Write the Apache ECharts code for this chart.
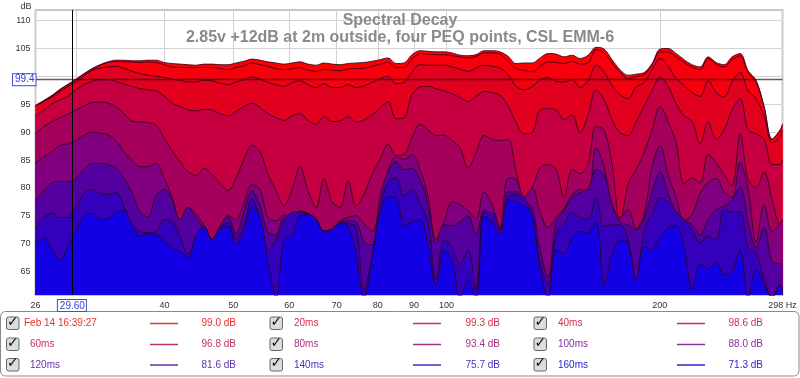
<!doctype html>
<meta charset="utf-8">
<style>
  html, body { margin: 0; padding: 0; width: 100%; height: 100%; background: #fff; }
  #chart { width: 800px; height: 378px; filter: blur(.35px); }
</style>
<script src="https://cdn.jsdelivr.net/npm/echarts@6/dist/echarts.min.js"></script>

<div id="chart"></div>

<script>
  const freqs = [26.3,27.03,27.75,28.48,29.23,30.0,30.79,31.6,32.43,33.29,
    34.16,35.06,35.99,36.94,37.91,38.91,39.93,40.98,42.06,43.17,
    44.31,45.48,46.68,47.91,49.17,50.46,51.79,53.16,54.56,56.0,
    57.47,58.98,60.54,62.13,63.77,65.45,67.17,68.94,70.76,72.62,
    74.53,76.5,78.51,80.58,82.7,84.88,87.12,89.41,91.77,94.18,
    96.66,99.21,101.82,104.51,107.26,110.08,112.98,115.96,119.01,122.15,
    125.37,128.67,132.06,135.54,139.11,142.77,146.54,150.4,154.36,158.43,
    162.6,166.89,171.28,175.79,180.42,185.18,190.06,195.06,200.2,205.48,
    210.89,216.45,222.15,228.0,234.01,240.17,246.5,252.99,259.66,266.5,
    273.52,280.72,288.12,295.71,298];

  const ms0 = [94.8,95.7,96.6,97.7,98.6,99.5,100.5,101.4,102.1,102.6,
    102.9,102.9,102.8,102.8,102.9,102.9,102.5,102.3,102.2,102.1,
    102.0,102.2,102.2,102.1,102.1,102.4,102.7,103.1,102.9,102.6,
    102.4,102.2,102.4,102.6,102.2,102.0,102.4,102.2,102.1,102.3,
    102.4,102.5,102.7,103.0,103.3,102.3,102.4,103.9,104.6,104.5,
    104.4,104.4,104.2,103.8,103.7,103.9,104.6,104.6,104.4,103.6,
    102.3,102.4,102.4,103.3,104.1,104.0,103.5,103.8,103.2,103.8,
    105.2,104.9,103.0,101.2,100.2,100.4,100.7,102.3,104.9,105.0,
    104.1,103.0,102.1,101.7,103.5,102.5,102.1,103.5,104.1,101.0,
    99.3,94.6,88.8,90.4,91.5];
  const ms20 = [94.8,95.6,96.5,97.6,98.5,99.4,100.4,101.3,102.0,102.5,
    102.7,102.6,102.6,102.5,102.6,102.5,102.1,101.7,101.6,101.6,
    101.6,101.6,101.6,101.4,101.2,101.6,101.9,102.4,102.1,101.8,
    101.4,101.2,101.4,101.6,101.1,100.9,101.3,101.1,101.0,101.3,
    101.4,101.5,101.8,102.2,102.5,101.6,101.6,103.1,104.1,104.0,
    103.9,103.9,103.7,103.5,103.3,103.6,104.2,104.2,104.0,102.7,
    101.4,101.1,100.8,101.8,102.6,102.5,102.3,102.7,102.2,102.4,
    104.8,104.2,102.4,100.8,99.6,100.0,100.3,102.1,104.4,104.4,
    103.5,102.5,101.7,101.2,103.2,102.2,101.7,103.0,103.7,100.7,
    99.0,94.5,88.7,90.3,91.3];
  const ms40 = [94.7,95.5,96.3,97.3,98.2,99.0,100.1,101.1,101.5,101.7,
    101.8,101.4,100.9,100.5,100.2,100.0,99.8,99.5,99.3,99.0,
    99.0,99.3,99.2,98.8,98.5,99.0,99.4,99.9,99.5,98.9,
    98.5,98.2,98.9,99.2,98.5,98.0,98.7,98.0,98.0,98.5,
    98.0,98.3,98.9,99.6,100.0,98.7,98.9,100.8,102.1,102.0,
    102.0,102.0,101.7,101.3,100.9,101.5,102.0,101.8,101.5,100.3,
    98.2,97.6,98.2,99.4,99.8,99.1,99.0,99.4,98.0,99.2,
    102.0,100.8,98.3,96.7,96.0,98.1,98.9,101.2,103.2,101.9,
    99.6,98.4,97.1,96.4,99.2,97.1,96.3,99.0,100.7,97.4,
    96.0,92.9,88.1,89.2,90.4];
  const ms60 = [92.9,94.0,95.1,95.8,96.4,97.6,98.5,99.1,99.4,99.4,
    99.1,98.6,98.2,97.8,97.6,97.4,96.5,95.2,94.6,94.0,
    93.8,94.1,94.0,93.3,92.9,93.7,94.6,95.2,94.4,93.3,
    92.6,92.1,92.9,93.3,92.1,91.4,92.8,91.9,92.0,92.8,
    91.8,92.2,93.1,94.3,95.5,92.4,92.6,96.7,98.1,98.2,
    97.8,97.4,96.9,96.2,95.5,96.4,97.3,97.1,96.6,94.7,
    91.7,89.7,89.9,94.0,94.2,94.0,92.2,93.1,89.9,93.1,
    97.6,95.8,92.2,89.9,89.4,91.9,94.6,97.4,99.9,98.2,
    95.1,92.9,91.9,87.9,91.9,88.7,90.4,94.0,96.0,90.4,
    89.7,88.7,84.2,84.2,85.1];
  const ms80 = [89.8,91.0,91.9,92.6,93.2,94.0,94.7,95.3,95.4,95.2,
    94.6,93.3,92.0,91.8,91.7,91.2,89.0,86.7,84.7,82.9,
    82.2,83.5,82.4,80.8,79.5,81.7,85.1,87.6,86.5,82.4,
    79.5,76.8,79.7,83.8,79.5,76.5,81.6,77.5,76.5,81.3,
    76.8,78.8,82.4,85.1,87.8,85.8,86.0,89.0,91.4,90.4,
    89.4,89.5,88.5,87.2,83.6,86.3,89.4,88.7,88.5,88.7,
    82.9,78.3,80.0,83.6,84.2,83.3,78.3,83.3,82.6,84.4,
    91.0,90.4,84.2,73.9,80.6,83.3,86.3,90.4,94.6,91.9,
    88.1,80.8,81.8,80.9,86.0,84.5,82.4,80.4,89.7,81.5,
    80.0,82.9,77.9,73.4,74.3];
  const ms100 = [84.5,85.6,86.5,87.6,87.9,88.5,89.4,90.0,89.8,89.5,
    88.5,86.5,84.9,83.8,83.8,84.4,81.8,78.4,74.2,76.5,
    75.4,73.2,70.9,73.1,75.0,74.3,77.3,80.6,79.7,74.7,
    74.1,75.2,74.5,75.7,75.4,74.5,72.3,72.7,74.1,74.7,
    75.0,73.6,72.2,77.0,83.1,85.6,85.1,86.0,83.3,78.4,
    70.7,73.9,77.5,77.0,75.9,74.5,79.3,77.0,72.9,81.8,
    81.5,78.3,80.0,75.6,72.9,74.7,76.3,78.8,79.7,79.7,
    87.2,83.8,77.0,74.7,76.1,72.7,75.2,83.8,87.6,82.4,
    78.4,74.1,75.2,79.0,80.9,81.7,79.3,78.3,84.5,79.7,
    70.2,77.0,72.2,73.6,74.3];
  const ms120 = [77.7,79.5,80.9,81.2,81.1,81.7,83.3,84.4,84.4,84.2,
    83.6,81.7,79.2,75.7,74.8,78.6,79.7,77.9,74.3,76.5,
    74.7,72.5,70.7,73.1,74.7,71.8,75.7,79.5,76.7,72.0,
    71.6,74.8,74.3,75.9,75.4,74.5,72.3,72.3,73.8,74.1,
    73.9,70.2,69.8,78.4,82.9,84.7,83.3,83.5,81.5,77.0,
    70.0,73.4,73.2,73.9,75.0,71.6,76.1,74.7,72.7,79.3,
    79.3,77.5,76.5,68.9,63.9,73.9,75.9,78.3,79.2,79.7,
    83.3,82.4,77.0,73.9,73.4,72.5,74.5,79.3,82.9,79.0,
    75.6,74.3,73.4,71.6,74.3,76.1,76.7,77.9,80.2,73.9,
    69.3,72.9,66.8,66.4,66.3];
  const ms140 = [72.7,74.7,75.5,74.7,74.7,76.6,79.0,79.7,79.0,78.8,
    79.2,76.7,73.4,72.2,72.0,72.2,74.3,74.1,71.3,68.2,
    71.1,73.2,70.7,72.9,73.8,70.7,73.4,78.1,74.3,68.9,
    70.7,74.1,75.6,75.7,75.2,74.3,72.2,72.5,73.8,73.6,
    72.9,61.8,67.7,76.6,81.1,81.8,78.6,79.7,77.4,73.8,
    63.6,70.7,69.5,66.3,68.9,61.8,75.7,75.6,72.5,78.4,
    78.8,78.3,75.0,66.6,62.8,71.8,73.6,75.6,74.7,74.3,
    78.3,73.1,73.4,73.4,70.7,63.6,72.2,75.4,78.3,77.4,
    75.7,74.3,72.5,70.2,71.4,70.7,76.1,75.7,75.7,69.3,
    68.4,63.6,60.2,62.7,61.8];
  const ms160 = [70.0,71.1,68.9,67.0,69.5,72.3,75.0,75.4,74.3,74.5,
    75.6,75.9,73.4,71.3,71.8,71.6,70.4,69.3,68.6,67.5,
    71.6,72.9,70.7,72.7,73.2,69.7,72.2,76.5,75.0,66.6,
    60.2,70.7,71.4,75.0,75.2,74.3,72.2,72.5,73.6,73.1,
    68.0,60.2,67.5,75.6,78.4,78.3,73.2,73.9,74.3,69.5,
    62.5,68.9,66.8,60.2,63.6,60.2,75.0,73.9,71.6,77.9,
    77.5,76.8,75.4,65.4,60.2,68.9,68.2,71.1,72.2,72.0,
    73.9,62.5,68.0,70.7,70.0,63.6,69.5,68.9,71.1,72.9,
    73.2,69.3,61.8,66.3,65.4,66.8,64.5,65.0,68.9,60.2,
    65.4,62.7,60.2,62.7,61.2];

  const names = ['Feb 14 16:39:27', '20ms', '40ms', '60ms', '80ms', '100ms', '120ms', '140ms', '160ms'];
  const curves = [ms0, ms20, ms40, ms60, ms80, ms100, ms120, ms140, ms160];
  const readouts = ['99.0 dB', '99.3 dB', '98.6 dB', '96.8 dB', '93.4 dB', '88.0 dB', '81.6 dB', '75.7 dB', '71.3 dB'];
  const fills = ['#ff0000', '#f5000c', '#e2001f', '#c60040', '#a4005c', '#800080', '#5400a0', '#3400bc', '#1400e4'];
  const legendColors = ['#e83030', '#d82c48', '#d02c50', '#c03068', '#a83080', '#8830a0', '#6030b0', '#4030c8', '#2c24d8'];
  const yLabels = [65, 70, 75, 80, 85, 90, 95, 100, 105, 110];
  const xTicks = [26.3, 30, 40, 50, 60, 70, 80, 90, 100, 200, 298];
  const xLabels = [26.3, 40, 50, 60, 70, 80, 90, 100, 200, 298];
  const cursorHz = 29.6;
  const cursorDb = 99.4;

  const FONT = '"Liberation Sans", Arial, sans-serif';
  let chart = echarts.init(document.getElementById('chart'));

  let series = curves.map((vals, i) => ({
    name: names[i],
    type: 'line',
    data: vals.map((v, k) => [freqs[k], v]),
    smooth: 0.35,
    showSymbol: false,
    silent: true,
    lineStyle: { color: 'rgba(40,0,30,.8)', width: 1 },
    areaStyle: { color: fills[i], opacity: 1, origin: 'start' },
    z: 2 + i
  }));

  const cursorLabel = {
    show: true,
    position: 'start',
    color: '#3040d0',
    fontFamily: FONT,
    fontSize: 10,
    backgroundColor: '#fff',
    borderColor: '#3a50e0',
    borderWidth: 1,
    padding: [1, 1, 0, 2]
  };
  series[8].markLine = {
    silent: true,
    symbol: 'none',
    animation: false,
    precision: 2,
    z: 20,
    data: [
      { xAxis: cursorHz, lineStyle: { color: '#000', width: 1, type: 'solid' },
        label: Object.assign({}, cursorLabel, { formatter: cursorHz.toFixed(2), distance: 5 }) },
      { yAxis: cursorDb, lineStyle: { color: 'rgba(30,20,30,.7)', width: 1.4, type: 'solid' },
        label: Object.assign({}, cursorLabel, { formatter: cursorDb.toFixed(1), distance: 0 }) }
    ]
  };

  // legend panel
  const colX = [
    { box: 12.5, text: 24, line: 150, val: 236 },
    { box: 276, text: 294, line: 413, val: 500 },
    { box: 540, text: 558, line: 677, val: 763 }
  ];
  const rowY = [323.5, 344.5, 365];
  let panel = [{
    type: 'rect', z: 20,
    shape: { x: 0.5, y: 311.5, width: 798.5, height: 64.5, r: 5 },
    style: { fill: '#fff', stroke: '#8a8a8a', lineWidth: 1 }
  }];
  names.forEach((name, i) => {
    let c = colX[i % 3], y = rowY[Math.floor(i / 3)];
    let textX = c.text;
    if (i % 3 == 0 && i > 0) textX = 30;
    panel.push(
      { type: 'rect', z: 21, shape: { x: c.box - 6, y: y - 6.5, width: 12.5, height: 12.5, r: 2 },
        style: { fill: '#dcdcdc', stroke: '#666', lineWidth: 1 } },
      { type: 'text', z: 22, x: c.box - 5.5, y: y - 8.5,
        style: { text: '✓', fill: '#111', font: 'bold 14px "DejaVu Sans"' } },
      { type: 'text', z: 21, x: textX, y: y - 5,
        style: { text: name, fill: legendColors[i], font: '10px ' + FONT } },
      { type: 'line', z: 21, shape: { x1: c.line, y1: y, x2: c.line + 28, y2: y },
        style: { stroke: legendColors[i], lineWidth: 1.5 } },
      { type: 'text', z: 21, x: c.val, y: y - 5,
        style: { text: readouts[i], fill: legendColors[i], font: '10px ' + FONT, align: 'right' } }
    );
  });

  chart.setOption({
    animation: false,
    backgroundColor: '#fff',
    title: {
      text: 'Spectral Decay\n2.85v +12dB at 2m outside, four PEQ points, CSL EMM-6',
      left: 395,
      top: 7,
      textAlign: 'center',
      textStyle: { color: '#8a8a8a', fontSize: 16, fontWeight: 'bold', fontFamily: FONT, lineHeight: 17 }
    },
    grid: {
      show: true, left: 35.5, right: 17.5, top: 10, bottom: 83,
      borderColor: '#c6c6c6', borderWidth: 2, backgroundColor: '#fff'
    },
    xAxis: {
      type: 'log', logBase: 10, min: 26.3, max: 298,
      axisLine: { show: false },
      axisTick: { show: false, customValues: xTicks },
      minorTick: { show: false },
      splitLine: { show: true, lineStyle: { color: '#d2d2d2', width: 1 } },
      axisLabel: {
        customValues: xLabels,
        color: '#333', fontFamily: FONT, fontSize: 9, margin: 6,
        showMinLabel: true, showMaxLabel: true,
        formatter: v => { let r = Math.round(v); return r == 298 ? '298 Hz' : '' + r; }
      }
    },
    yAxis: {
      type: 'value', min: 60.8, max: 111.9,
      name: 'dB', nameLocation: 'end', nameGap: -1,
      nameTextStyle: { color: '#333', fontFamily: FONT, fontSize: 9, align: 'right', padding: [0, 4, 0, 0] },
      axisLine: { show: false },
      axisTick: { show: false, customValues: yLabels },
      splitLine: { show: true, lineStyle: { color: '#d2d2d2', width: 1 } },
      axisLabel: { customValues: yLabels, color: '#333', fontFamily: FONT, fontSize: 9, margin: 5 }
    },
    series: series,
    graphic: panel
  });
</script>
